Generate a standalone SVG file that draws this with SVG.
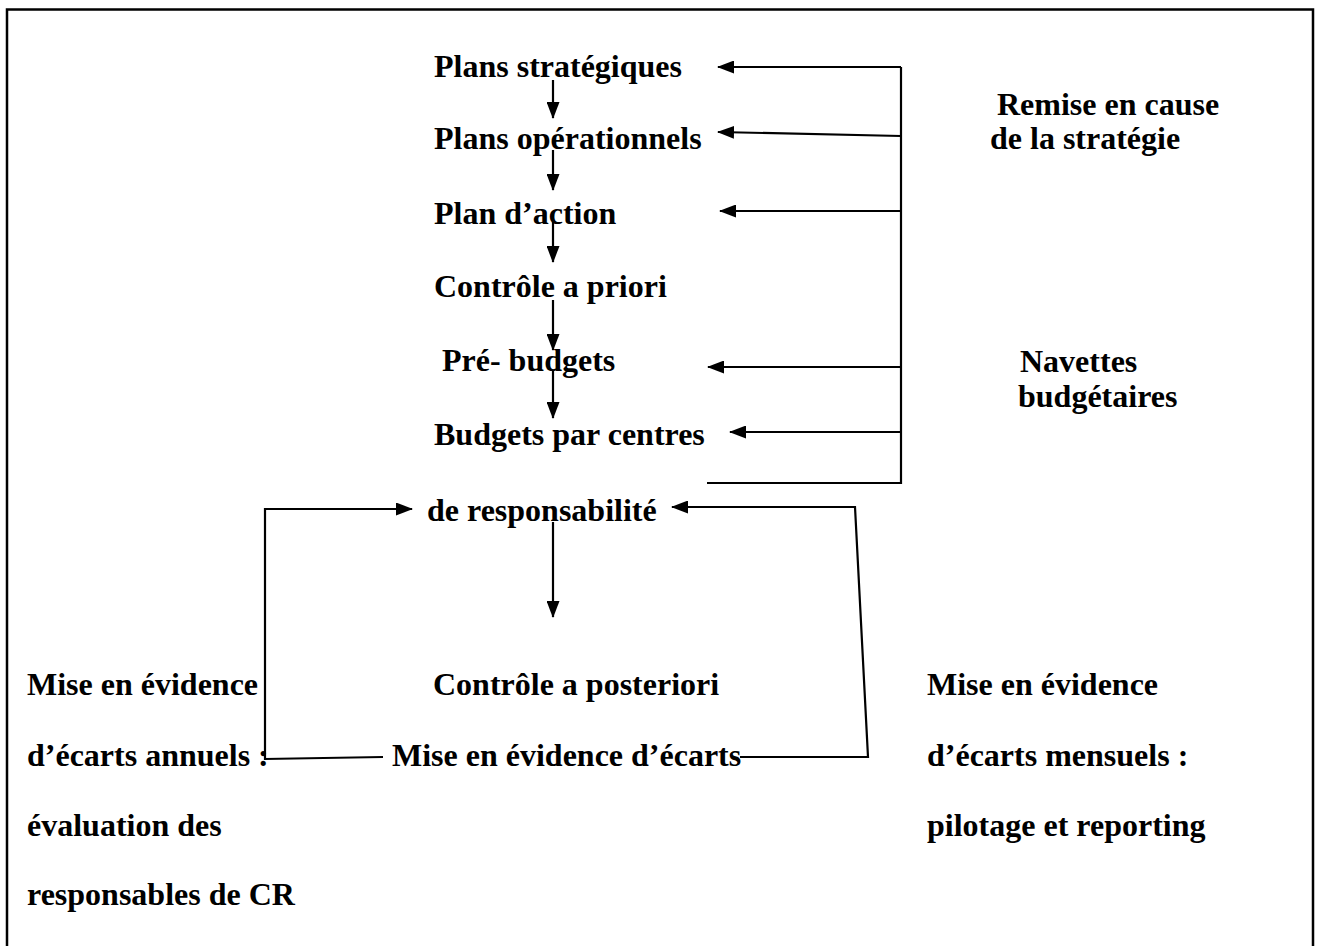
<svg xmlns="http://www.w3.org/2000/svg" width="1317" height="946" viewBox="0 0 1317 946">
<style>
text{font-family:"Liberation Serif","Times New Roman",serif;font-weight:bold;font-size:32px;fill:#000}
.c{fill:none;stroke:#000;stroke-width:2.2}
.a{marker-end:url(#ah)}
</style>
<defs>
<marker id="ah" viewBox="0 0 17 13" refX="16" refY="6.5" markerWidth="17" markerHeight="13" markerUnits="userSpaceOnUse" orient="auto">
<path d="M0,0 L17,6.5 L0,13 Z" fill="#000"/>
</marker>
</defs>
<rect width="1317" height="946" fill="#fff"/>
<path d="M7,960 V9.5 H1313 V960" fill="none" stroke="#000" stroke-width="2.5"/>
<g id="connectors">
<line class="c a" x1="553" y1="80" x2="553" y2="118"/>
<line class="c a" x1="553" y1="150" x2="553" y2="190"/>
<line class="c a" x1="553" y1="222" x2="553" y2="262"/>
<line class="c a" x1="553" y1="300" x2="553" y2="350"/>
<line class="c a" x1="553" y1="370" x2="553" y2="418"/>
<line class="c a" x1="553" y1="522" x2="553" y2="617"/>
<path class="c" d="M901,67 V483 H707"/>
<line class="c a" x1="901" y1="67" x2="718" y2="67"/>
<line class="c a" x1="901" y1="136" x2="718" y2="132"/>
<line class="c a" x1="901" y1="211" x2="720" y2="211"/>
<line class="c a" x1="901" y1="367" x2="708" y2="367"/>
<line class="c a" x1="901" y1="432" x2="730" y2="432"/>
<path class="c a" d="M383,757 L265,759 V509 H412"/>
<path class="c a" d="M740,757 H868 L855,507 H672"/>
</g>
<g id="n-plans-strategiques"><text x="434" y="77">Plans stratégiques</text></g>
<g id="n-plans-operationnels"><text x="434" y="149">Plans opérationnels</text></g>
<g id="n-plan-action"><text x="434" y="224">Plan d’action</text></g>
<g id="n-controle-priori"><text x="434" y="297">Contrôle a priori</text></g>
<g id="n-pre-budgets"><text x="442" y="371">Pré- budgets</text></g>
<g id="n-budgets"><text x="434" y="445">Budgets par centres</text><text x="427" y="521">de responsabilité</text></g>
<g id="n-controle-posteriori"><text x="433" y="695">Contrôle a posteriori</text><text x="392" y="766">Mise en évidence d’écarts</text></g>
<g id="n-remise"><text x="997" y="115">Remise en cause</text><text x="990" y="149">de la stratégie</text></g>
<g id="n-navettes"><text x="1020" y="372">Navettes</text><text x="1018" y="407">budgétaires</text></g>
<g id="n-annuels"><text x="27" y="695">Mise en évidence</text><text x="27" y="766">d’écarts annuels :</text><text x="27" y="836">évaluation des</text><text x="27" y="905">responsables de CR</text></g>
<g id="n-mensuels"><text x="927" y="695">Mise en évidence</text><text x="927" y="766">d’écarts mensuels :</text><text x="927" y="836">pilotage et reporting</text></g>
</svg>
